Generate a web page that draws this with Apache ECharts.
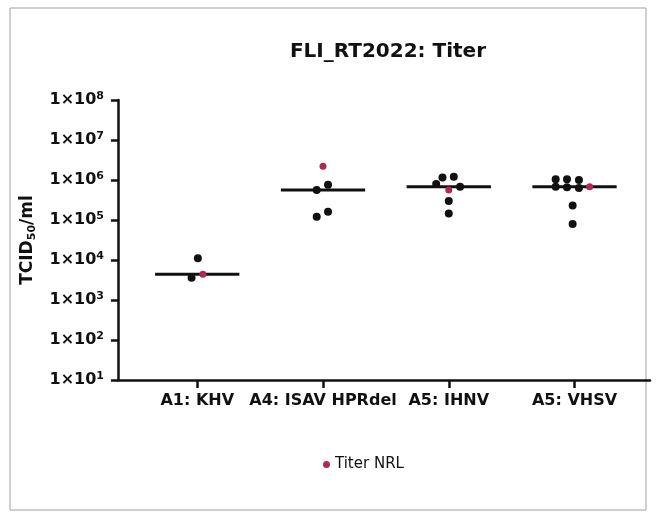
<!DOCTYPE html>
<html>
<head>
<meta charset="utf-8">
<script src="https://cdn.jsdelivr.net/npm/echarts@6/dist/echarts.min.js"></script>
<style>
  html, body { margin: 0; padding: 0; background: #fff; }
  #chart { width: 657px; height: 518px; }
</style>
</head>
<body>
<div id="chart"></div>
<script>
// values (TCID50/ml)
const categories = ['A1: KHV', 'A4: ISAV HPRdel', 'A5: IHNV', 'A5: VHSV'];
const yTicks = [1e1, 1e2, 1e3, 1e4, 1e5, 1e6, 1e7, 1e8];
const medians = [4400, 560000, 680000, 680000];
const labTiters = [
  [11000, 3600],
  [760000, 560000, 120000, 160000],
  [790000, 1150000, 1200000, 680000, 300000, 145000],
  [1050000, 1050000, 1000000, 680000, 660000, 630000, 230000, 80000]
];
const nrlTiters = [4400, 2200000, 560000, 680000];
// horizontal spread of overlapping dots, in category units
const labSpread = [
  [0.005, -0.045],
  [0.04, -0.05, -0.05, 0.04],
  [-0.1, -0.05, 0.04, 0.09, 0, 0],
  [-0.15, -0.06, 0.035, -0.15, -0.06, 0.035, -0.015, -0.015]
];
const nrlSpread = [0.045, 0, 0, 0.12];

const FONT = 'DejaVu Sans';

const labData = [];
labTiters.forEach((vals, i) => vals.forEach((v, j) => labData.push([i + labSpread[i][j], v])));
const nrlData = nrlTiters.map((v, i) => [i + nrlSpread[i], v]);
const medianData = medians.map((m, i) => [i, m]);

const chart = echarts.init(document.getElementById('chart'));

chart.setOption({
  animation: false,
  backgroundColor: '#fff',
  graphic: [{
    type: 'rect',
    shape: { x: 10, y: 8, width: 636, height: 502 },
    style: { fill: 'none', stroke: '#a0a0a0', lineWidth: 1 },
    silent: true
  }],
  title: {
    text: 'FLI_RT2022: Titer',
    left: 383,
    textAlign: 'center',
    top: 37,
    textStyle: { fontFamily: FONT, fontWeight: 'bold', fontSize: 20, color: '#111' }
  },
  legend: {
    data: ['Titer NRL'],
    left: 318,
    top: 452,
    icon: 'circle',
    itemWidth: 7,
    itemHeight: 7,
    itemGap: 6,
    textStyle: { fontFamily: FONT, fontSize: 15, color: '#111' }
  },
  grid: { left: 118, top: 100, right: 7, bottom: 138 },
  xAxis: {
    type: 'value',
    min: -0.63,
    max: 3.6,
    splitLine: { show: false },
    axisLine: { onZero: false, lineStyle: { color: '#111', width: 2.5 } },
    axisTick: { customValues: [0, 1, 2, 3], length: 8, lineStyle: { color: '#111', width: 2.5 } },
    axisLabel: {
      customValues: [0, 1, 2, 3],
      formatter: v => categories[Math.round(v)],
      margin: 13,
      fontFamily: FONT,
      fontWeight: 'bold',
      fontSize: 16,
      color: '#111'
    }
  },
  yAxis: {
    type: 'log',
    logBase: 10,
    min: yTicks[0],
    max: yTicks[yTicks.length - 1],
    name: 'TCID{s|50}/ml',
    nameLocation: 'middle',
    nameRotate: 90,
    nameGap: 80,
    nameTextStyle: {
      fontFamily: FONT, fontWeight: 'bold', fontSize: 17, color: '#111',
      rich: { s: { fontFamily: FONT, fontWeight: 'bold', fontSize: 11, color: '#111', padding: [9, 0, 0, 0] } }
    },
    splitLine: { show: false },
    minorTick: { show: false },
    axisLine: { show: true, onZero: false, lineStyle: { color: '#111', width: 2.5 } },
    axisTick: { show: true, length: 7, lineStyle: { color: '#111', width: 2.5 } },
    axisLabel: {
      margin: 14,
      formatter: v => '{b|1×10}{s|' + Math.round(Math.log10(v)) + '}',
      rich: {
        b: { fontFamily: FONT, fontWeight: 'bold', fontSize: 16, color: '#111' },
        s: { fontFamily: FONT, fontWeight: 'bold', fontSize: 11, color: '#111', padding: [0, 0, 8, 0] }
      }
    }
  },
  series: [
    {
      name: 'Median',
      type: 'custom',
      z: 1,
      data: medianData,
      renderItem: (params, api) => {
        const c = api.value(0), m = api.value(1);
        const p1 = api.coord([c - 0.335, m]);
        const p2 = api.coord([c + 0.335, m]);
        return {
          type: 'line',
          shape: { x1: p1[0], y1: p1[1], x2: p2[0], y2: p2[1] },
          style: { stroke: '#111', lineWidth: 3 }
        };
      }
    },
    {
      name: 'Titer',
      type: 'scatter',
      z: 3,
      symbolSize: 8,
      itemStyle: { color: '#111', opacity: 1 },
      data: labData
    },
    {
      name: 'Titer NRL',
      type: 'scatter',
      z: 4,
      symbolSize: 7,
      itemStyle: { color: '#b3284f', opacity: 1 },
      data: nrlData
    }
  ]
});
</script>
</body>
</html>
